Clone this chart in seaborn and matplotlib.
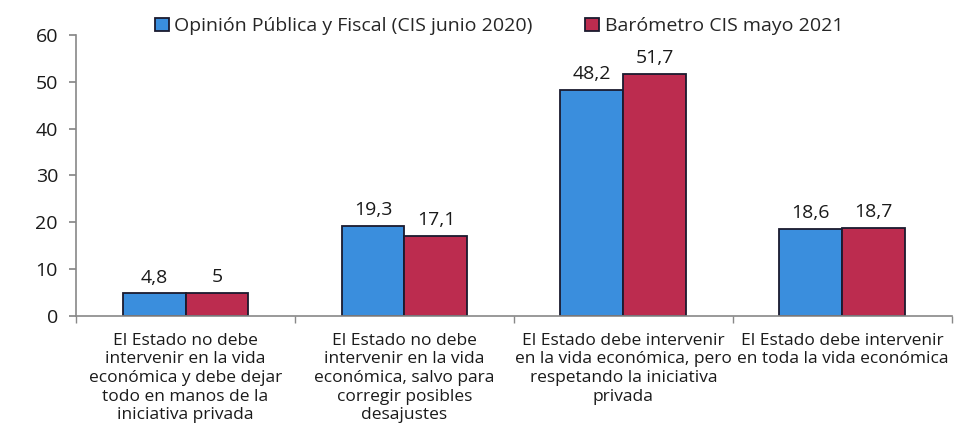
import pandas as pd
import matplotlib
matplotlib.use("Agg")
import matplotlib.pyplot as plt
import seaborn as sns

# Datos
categorias = [
    "El Estado no debe\nintervenir en la vida\neconómica y debe dejar\ntodo en manos de la\niniciativa privada",
    "El Estado no debe\nintervenir en la vida\neconómica, salvo para\ncorregir posibles\ndesajustes",
    "El Estado debe intervenir\nen la vida económica, pero\nrespetando la iniciativa\nprivada",
    "El Estado debe intervenir\nen toda la vida económica",
]
serie_2020 = [4.8, 19.3, 48.2, 18.6]
serie_2021 = [5, 17.1, 51.7, 18.7]
nombres_series = ["Opinión Pública y Fiscal (CIS junio 2020)", "Barómetro CIS mayo 2021"]
colores = ["#3A8EDD", "#BC2C4F"]

sns.set_theme(style="white")
plt.rcParams["font.family"] = ["Open Sans", "DejaVu Sans"]

df = pd.DataFrame({
    "Categoria": categorias * 2,
    "Valor": serie_2020 + serie_2021,
    "Serie": [nombres_series[0]] * 4 + [nombres_series[1]] * 4,
})

fig = plt.figure(figsize=(9.71, 4.37), dpi=100)
ax = fig.add_axes([0.0783, 0.277, 0.902, 0.643])

sns.barplot(data=df, x="Categoria", y="Valor", hue="Serie", palette=colores,
            width=0.575, gap=0, edgecolor="#1a1a2e", linewidth=1.3,
            saturation=1, ax=ax, legend=True)

# etiquetas de valor con coma decimal
for cont in ax.containers:
    etiquetas = [f"{v:g}".replace(".", ",") for v in cont.datavalues]
    ax.bar_label(cont, labels=etiquetas, padding=5, fontsize=14, color="#1a1a1a")

ax.set_ylim(0, 60)
ax.set_xlim(-0.5, 3.5)
ax.set_yticks(range(0, 61, 10))
ax.set_xlabel("")
ax.set_ylabel("")
ax.tick_params(axis="y", labelsize=14, length=5, color="#888888", pad=8,
               direction="out", left=True, labelcolor="#1a1a1a")
ax.set_xticks(range(4))
ax.set_xticklabels(categorias, fontsize=12.5, linespacing=1.22, color="#1a1a1a")
ax.tick_params(axis="x", length=0, pad=12)
# marcas de separación entre categorías
ax.set_xticks([-0.5, 0.5, 1.5, 2.5, 3.5], minor=True)
ax.tick_params(axis="x", which="minor", length=5, color="#888888", direction="out", bottom=True)

for lado in ["top", "right"]:
    ax.spines[lado].set_visible(False)
for lado in ["left", "bottom"]:
    ax.spines[lado].set_color("#888888")
    ax.spines[lado].set_linewidth(1.2)

leg = ax.get_legend()
handles = leg.legend_handles
leg.remove()
fig.legend(handles, nombres_series, loc="center", bbox_to_anchor=(0.514, 0.94), ncol=2,
           frameon=False, fontsize=14, handlelength=0.7, handleheight=0.7,
           handletextpad=0.3, columnspacing=2.7, borderaxespad=0)

fig.savefig("out.png", dpi=100)
